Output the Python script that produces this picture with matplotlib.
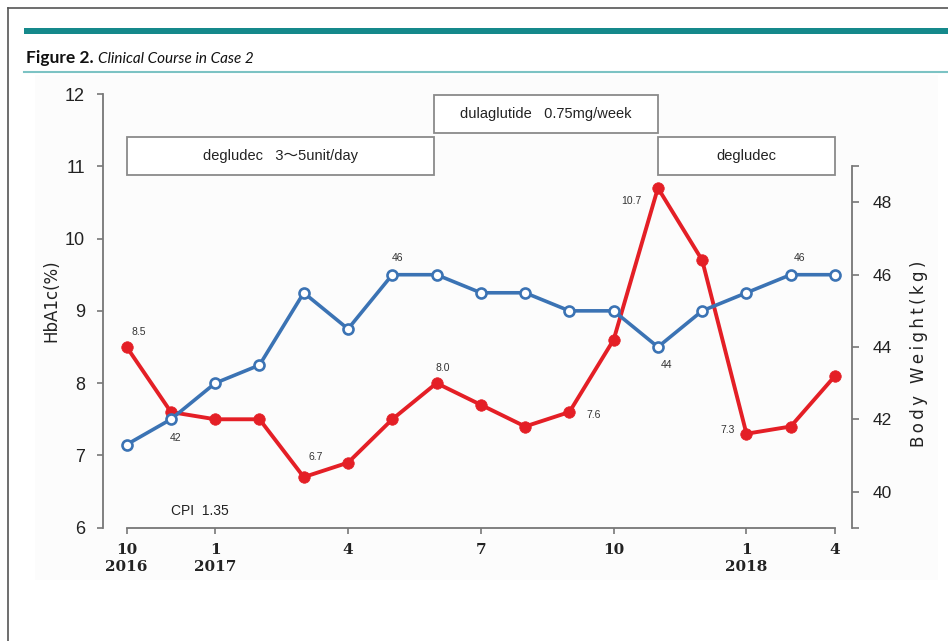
import matplotlib
matplotlib.use('Agg')
import matplotlib.pyplot as plt
from matplotlib.patches import Rectangle
from matplotlib.lines import Line2D

# ---------------- data ----------------
visit_index = list(range(17))
hba1c = [8.5, 7.6, 7.5, 7.5, 6.7, 6.9, 7.5, 8.0, 7.7, 7.4, 7.6, 8.6, 10.7, 9.7, 7.3, 7.4, 8.1]
weight = [41.3, 42.0, 43.0, 43.5, 45.5, 44.5, 46.0, 46.0, 45.5, 45.5, 45.0, 45.0, 44.0, 45.0, 45.5, 46.0, 46.0]
tick_index = [0, 2, 5, 8, 11, 14, 16]
tick_labels = ['10\n2016', '1\n2017', '4', '7', '10', '1\n2018', '4']
phase_labels = ['degludec   3～5unit/day', 'dulaglutide   0.75mg/week', 'degludec']
phase_start = [0, 6.95, 12]
phase_end = [6.95, 12, 16]
hba1c_label_idx = [0, 4, 7, 10, 12, 14]
weight_label_idx = [1, 6, 12, 15]
cpi_text = 'CPI  1.35'

W, H = 948, 641
fig = plt.figure(figsize=(W / 100, H / 100), dpi=100)
fig.patch.set_facecolor('white')

def fx(x):
    return x / W

def fy(y):
    return 1 - y / H

# outer frame and header
fig.add_artist(Line2D([fx(8), fx(8)], [fy(8), 0], color='#555555', lw=1.2))
fig.add_artist(Line2D([fx(8), 1], [fy(8), fy(8)], color='#555555', lw=1.2))
fig.add_artist(Rectangle((fx(24), fy(34)), 1 - fx(24), 6 / H, color='#15898b', lw=0))
fig.add_artist(Line2D([fx(24), 1], [fy(72), fy(72)], color='#7cc3c4', lw=1.5))
# very light scanned chart background
fig.add_artist(Rectangle((fx(35), fy(580)), fx(903), 505 / H, color='#fcfcfc', lw=0, zorder=0))

t1 = fig.text(fx(26), fy(63), 'Figure 2.', fontsize=12.5, fontweight='bold',
              family='Lato', color='#111111', va='baseline')
fig.canvas.draw()
bb = t1.get_window_extent()
fig.text(bb.x1 / W + 4 / W, fy(63), 'Clinical Course in Case 2', fontsize=11,
         style='italic', family='Lato', color='#111111', va='baseline')

# ---------------- axes ----------------
ax = fig.add_axes([fx(103), fy(527.7), (852 - 103) / W, (527.7 - 94) / H])
ax.set_facecolor('none')
ax.set_xlim(-0.535, 16.384)
ax.set_ylim(6, 12)
ax2 = ax.twinx()
ax2.set_ylim(39, 51)

spine_col = '#777777'
for s in ['top', 'right']:
    ax.spines[s].set_visible(False)
for s in ['top', 'left', 'bottom']:
    ax2.spines[s].set_visible(False)
ax.spines['left'].set_color(spine_col)
ax.spines['bottom'].set_color(spine_col)
ax2.spines['right'].set_color(spine_col)
for sp in [ax.spines['left'], ax.spines['bottom'], ax2.spines['right']]:
    sp.set_linewidth(1.3)
ax.spines['bottom'].set_bounds(0, 16)
ax2.spines['right'].set_bounds(39, 49)

ax.set_yticks(range(6, 13))
ax.set_yticklabels([str(v) for v in range(6, 13)], family='Liberation Sans', fontsize=13, color='#222222')
ax.tick_params(axis='y', length=4, width=1.2, color=spine_col, pad=9)

ax.set_xticks(tick_index)
ax.set_xticklabels(tick_labels, family='DejaVu Serif', fontweight='bold', fontsize=11,
                   color='#222222', linespacing=1.3)
ax.tick_params(axis='x', length=4, width=1.2, color=spine_col, pad=7)

ax2.set_yticks([40, 42, 44, 46, 48])
ax2.set_yticklabels(['40', '42', '44', '46', '48'], family='Liberation Sans', fontsize=12.5, color='#222222')
ax2.set_yticks([39, 49], minor=True)
ax2.tick_params(axis='y', which='both', length=5, width=1.2, color=spine_col, pad=10)

ax.set_ylabel('HbA1c(%)', family='DejaVu Sans', fontsize=12, color='#222222')
ax.yaxis.set_label_coords(-0.057, 0.523)
ax2.set_ylabel('\u2009'.join('Body Weight(kg)'),
               family='DejaVu Sans', fontsize=12, color='#222222', rotation=90)
ax2.yaxis.set_label_coords(1.078, 0.40)

# ---------------- series ----------------
red = '#e41f26'
blue = '#3b73b4'
ax.plot(visit_index, hba1c, color=red, lw=2.8, marker='o', ms=8.3, mfc=red, mec=red, mew=0.5, zorder=3)
ax2.plot(visit_index, weight, color=blue, lw=2.6, marker='o', ms=7.2, mfc='white', mec=blue, mew=1.9, zorder=3)

lab_kw = dict(family='Liberation Sans', fontsize=7.5, color='#333333', textcoords='offset pixels')
red_offsets = {0: (12, 15), 4: (12, 20), 7: (6, 15), 10: (24, -3), 12: (-27, -13), 14: (-19, 4)}
for i in hba1c_label_idx:
    dx, dy = red_offsets[i]
    ax.annotate(f'{hba1c[i]:.1f}', (visit_index[i], hba1c[i]), xytext=(dx, dy),
                ha='center', va='center', **lab_kw)
blue_offsets = {1: (5, -19), 6: (5, 17), 12: (9, -18), 15: (9, 17)}
for i in weight_label_idx:
    dx, dy = blue_offsets[i]
    ax2.annotate(f'{weight[i]:.0f}', (visit_index[i], weight[i]), xytext=(dx, dy),
                 ha='center', va='center', **lab_kw)

ax.text(1.66, 6.23, cpi_text, family='Liberation Sans', fontsize=10, color='#222222',
        ha='center', va='center')

# ---------------- treatment phase boxes ----------------
box_low = (10.88, 11.40)
box_high = (11.46, 11.99)
for lab, x0, x1 in zip(phase_labels, phase_start, phase_end):
    y0, y1 = box_high if lab.startswith('dula') else box_low
    ax.add_patch(Rectangle((x0, y0), x1 - x0, y1 - y0, fill=True, facecolor='white',
                           edgecolor='#8a8a8a', lw=1.3, zorder=4, clip_on=False))
    ax.text((x0 + x1) / 2, (y0 + y1) / 2, lab, family=['Liberation Sans', 'Noto Sans CJK JP'],
            fontsize=10.5, color='#222222', ha='center', va='center', zorder=5)

fig.savefig('out.png', dpi=100)
